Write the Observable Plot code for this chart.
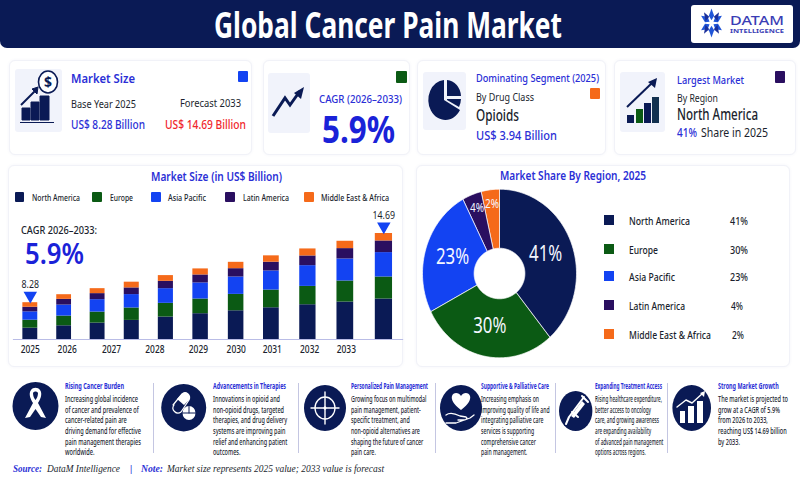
<!DOCTYPE html>
<html><head><meta charset="utf-8">
<script src="https://cdn.jsdelivr.net/npm/d3@7"></script>
<script src="https://cdn.jsdelivr.net/npm/@observablehq/plot@0.6"></script>
<style>
html,body{margin:0;padding:0;background:#fff;width:800px;height:480px;overflow:hidden;font-family:"Noto Sans",sans-serif}
#page{position:relative;width:800px;height:480px;overflow:hidden}
.t{position:absolute;white-space:nowrap;line-height:1;transform-origin:0 50%}
.box{position:absolute;box-sizing:border-box}
.card{border:1px solid #f1f2f8;border-radius:6px;background:#fff;box-shadow:0 0 3px rgba(90,100,170,.07)}
.iconbg{background:#f1f3fb;border-radius:3px}
.plot{position:absolute}
.plot svg{display:block;overflow:visible;background:transparent}
</style></head><body><div id="page"></div>
<script>
// ---------- data ----------
const regions = ["North America","Europe","Asia Pacific","Latin America","Middle East & Africa"];
const regionColors = ["#0a1a55","#0b5a14","#1343f2","#2a0f60","#f56a1a"];
const barSlots = [0,1,2,3,4,5,6,7,8,9,10];
const northAmerica = [5.92,6.14,6.39,6.64,6.95,7.26,7.53,7.81,8.09,8.34,8.62];
const europe       = [0.74,0.90,1.02,1.15,1.27,1.36,1.52,1.64,1.70,1.95,2.04];
const asiaPacific  = [0.77,1.02,1.15,1.24,1.36,1.49,1.61,1.77,1.92,2.04,2.26];
const latinAmerica = [0.43,0.53,0.56,0.62,0.68,0.74,0.77,0.81,0.90,0.96,1.08];
const middleEast   = [0.42,0.43,0.46,0.53,0.53,0.56,0.59,0.59,0.65,0.68,0.69];
const tickYears = ["2025","2026","2027","2028","2029","2030","2031","2032","2033"];
const tickSlots = [0,1.09,2.41,3.68,4.94,6.0,7.03,8.05,9.03];
const calloutSlots = [0,10];
const calloutTotals = [8.28,14.69];
const axisFloor = 4.87;
const sliceShares = [38.7,28.9,24.6,4.05,3.75];
const shareLabels = ["41%","30%","23%","4%","2%"];

// ---------- helpers ----------
const page = document.getElementById("page");
function box(cls,x,y,w,h,extra){const d=document.createElement("div");d.className="box "+cls;
  d.style.cssText=`left:${x}px;top:${y}px;width:${w}px;height:${h}px;${extra||""}`;page.appendChild(d);return d;}
function T(text,x,cy,size,color,o={}){const s=document.createElement("span");s.className="t";s.textContent=text;
  s.style.cssText=`left:${x}px;top:${cy}px;font-size:${size}px;color:${color};font-weight:${o.weight||400};font-family:${o.family||'"Noto Sans"'};${o.italic?"font-style:italic;":""}`;
  page.appendChild(s);let k=o.k||1;if(o.w)k=o.w/s.getBoundingClientRect().width;
  s.style.transform=`translateY(-50%) scaleX(${k})`;return k;}
function squeeze(svg,k){svg.querySelectorAll("text").forEach(t=>{const n=t.querySelector("tspan")||t;
  const len=n.getComputedTextLength();n.setAttribute("textLength",len*k);n.setAttribute("lengthAdjust","spacingAndGlyphs");});}
const NAVY="#0a1a55",BLUE="#2b2fd6",INK="#1b1f2e",LOGO="#3a3db5";

// ---------- header ----------
box("",0,0,800,47.5,`background:${NAVY};border-radius:0 0 7px 7px`);
T("Global Cancer Pain Market",214,23.5,35,"#fff",{weight:700,w:348});
box("",691,5,102,38,"background:#fff;border-radius:3px");
T("DATAM",730,21,12.5,LOGO,{weight:500,w:54});
T("INTELLIGENCE",730,30.5,6,LOGO,{weight:700,w:54});

// ---------- KPI cards ----------
box("card",9,60,243,95);box("card",263,60,147,95);box("card",417,60,189,95);box("card",614,60,182,95);
box("iconbg",15,69,47,63);box("iconbg",268,73,42,60);box("iconbg",423,72,43,58);box("iconbg",620,72,45,60);
box("",238,71,10,11,`background:${regionColors[2]};border-radius:1px`);
box("",396,71,11,12,`background:${regionColors[1]};border-radius:1px`);
box("",590,88,10,11,`background:${regionColors[4]};border-radius:1px`);
box("",775,71,10,12,`background:${regionColors[3]};border-radius:1px`);
T("Market Size",71,78,13,BLUE,{weight:600,w:64});
T("Base Year 2025",71,103,11,INK,{w:65});
T("Forecast 2033",180,102,11,INK,{w:61});
T("US$ 8.28 Billion",71,125,12,BLUE,{weight:500,w:74});
T("US$ 14.69 Billion",165,125,12,"#f0262c",{weight:500,w:81});
T("CAGR (2026–2033)",319,98,11,BLUE,{weight:500,w:83});
T("5.9%",322,128,38,"#1a22d8",{weight:700,w:73});
T("Dominating Segment (2025)",476,77,11,BLUE,{weight:500,w:123});
T("By Drug Class",476,96,11,INK,{w:58});
T("Opioids",476,115,16,INK,{weight:500,w:43});
T("US$ 3.94 Billion",476,136,12.5,BLUE,{weight:500,w:81});
T("Largest Market",677,79,11,BLUE,{weight:500,w:67});
T("By Region",677,97,11,INK,{w:41});
T("North America",677,115,15.5,INK,{weight:500,w:81});
T("41%",677,133,12,BLUE,{weight:500,w:20});
T("Share in 2025",701,133,12,INK,{w:67});

// ---------- panels ----------
box("card",8,165,395,202);box("card",416,165,374,202);
T("Market Size (in US$ Billion)",151,177,12,BLUE,{weight:600,w:131});
T("Market Share By Region, 2025",500,176,12,BLUE,{weight:600,w:146});
const lx=[15,92,151,225,304],ltx=[32,110,168,243,321],ltw=[48,23,38,46,68];
regions.forEach((r,i)=>{box("",lx[i],192,i==0?9:10,10,`background:${regionColors[i]};border-radius:1px`);
  T(r,ltx[i],197,9,INK,{weight:500,w:ltw[i]});});

// ---------- stacked bars ----------
const barSeries=[northAmerica,europe,asiaPacific,latinAmerica,middleEast];
const barRows=barSlots.flatMap((s,i)=>regions.map((r,j)=>({slot:s,region:r,value:barSeries[j][i]})));
const callouts=calloutSlots.map((s,i)=>({slot:s,total:calloutTotals[i]}));
const barChart=Plot.plot({
  width:410,height:210,marginTop:0,marginRight:0,marginLeft:0,marginBottom:30,
  x:{type:"linear",domain:[-1,...barSlots,11],range:[-4,29.8,63.7,97,131.3,165.3,200,235.7,270.7,307.3,344.7,383.3,423],label:null},
  y:{domain:[axisFloor,14.69],range:[180,74],axis:null},
  color:{domain:regions,range:regionColors},
  style:{fontFamily:'"Noto Sans",sans-serif',background:"transparent"},
  marks:[
    Plot.rectY(barRows,{x1:d=>d.slot-0.22,x2:d=>d.slot+0.22,y:"value",fill:"region",order:regions,clip:true}),
    Plot.ruleY([axisFloor],{x1:-0.5,x2:10.5,stroke:"#b9bce6",strokeWidth:1}),
    Plot.axisX({ticks:tickSlots,tickFormat:(d,i)=>tickYears[i],tickSize:0,tickPadding:6,fontSize:10.5,fontWeight:500,color:INK,label:null}),
    Plot.text(callouts,{x:"slot",y:"total",text:d=>String(d.total),dy:-18,fontSize:11,fill:INK}),
    Plot.dot(callouts,{x:"slot",y:"total",symbol:"triangle",rotate:180,r:5,dy:-7,fill:"#1343f2",stroke:"none"})
  ]});
const w1=document.createElement("div");w1.className="plot";w1.style.cssText="left:0;top:159.4px";w1.appendChild(barChart);page.appendChild(w1);
squeeze(barChart,0.8);
T("CAGR 2026–2033:",21,229,11,INK,{weight:500,w:76});
T("5.9%",25,252,29,"#1a22d8",{weight:600,w:59});

// ---------- donut ----------
const starts=[0,...d3.cumsum(sliceShares)];
const ring=[];
regions.forEach((r,i)=>{
  const a0=starts[i]*3.6,a1=starts[i+1]*3.6,n=Math.ceil(a1-a0)+1;
  const ang=d3.range(n).map(k=>(a0+(a1-a0)*k/(n-1))*Math.PI/180);
  ang.forEach(a=>ring.push({region:r,x:Math.sin(a),y:Math.cos(a)}));
  ang.slice().reverse().forEach(a=>ring.push({region:r,x:0.33*Math.sin(a),y:0.3*Math.cos(a)}));
});
const sliceLabels=regions.map((r,i)=>{const a=(starts[i]+starts[i+1])/2*3.6*Math.PI/180,q=i<3?0.64:0.825;
  return {label:shareLabels[i],big:i<3,x:q*Math.sin(a),y:q*Math.cos(a)};});
const pie=Plot.plot({
  width:390,height:210,margin:0,
  x:{domain:[-1,1],range:[12,166],axis:null},
  y:{domain:[-1,1],range:[197.3,28.7],axis:null},
  color:{domain:regions,range:regionColors},
  style:{fontFamily:'"Noto Sans",sans-serif',background:"transparent"},
  marks:[
    Plot.line(ring,{x:"x",y:"y",z:"region",fill:"region",stroke:"#fff",strokeWidth:0.7,curve:"linear-closed"}),
    Plot.text(sliceLabels.filter(d=>d.big),{x:"x",y:"y",text:"label",fill:"#f4f6ff",fontSize:21}),
    Plot.text(sliceLabels.filter(d=>!d.big),{x:"x",y:"y",text:"label",fill:"#f4f6ff",fontSize:12.5})
  ]});
const w2=document.createElement("div");w2.className="plot";w2.style.cssText="left:410px;top:160px";w2.appendChild(pie);page.appendChild(w2);
squeeze(pie,0.8);
const pieY=[219.5,248.7,276,304.7,333.5],pieW=[61,29,46,56,82],pctX=[729.5,729.5,729.5,731,731.5];
regions.forEach((r,i)=>{box("",604,pieY[i]-5,10,10,`background:${regionColors[i]}`);
  T(r,629,pieY[i],11,INK,{weight:500,w:pieW[i]});
  T(shareLabels[i],pctX[i],pieY[i],11,INK,{weight:500,w:i<3?18:12});});

// ---------- bottom strip ----------
const cols=[
 {x:65,tw:59,fw:73,title:"Rising Cancer Burden",lines:["Increasing global incidence","of cancer and prevalence of","cancer-related pain are","driving demand for effective","pain management therapies","worldwide."]},
 {x:213,tw:73,fw:67,title:"Advancements in Therapies",lines:["Innovations in opioid and","non-opioid drugs, targeted","therapies, and drug delivery","systems are improving pain","relief and enhancing patient","outcomes."]},
 {x:351,tw:77,fw:75.5,title:"Personalized Pain Management",lines:["Growing focus on multimodal","pain management, patient-","specific treatment, and","non-opioid alternatives are","shaping the future of cancer","pain care."]},
 {x:481,tw:68,fw:58,title:"Supportive & Palliative Care",lines:["Increasing emphasis on","improving quality of life and","integrating palliative care","services is supporting","comprehensive cancer","pain management."]},
 {x:595,tw:67,fw:67,title:"Expanding Treatment Access",lines:["Rising healthcare expenditure,","better access to oncology","care, and growing awareness","are expanding availability","of advanced pain management","options across regions."]},
 {x:717.7,tw:60.7,fw:70,title:"Strong Market Growth",lines:["The market is projected to","grow at a CAGR of 5.9%","from 2026 to 2033,","reaching US$ 14.69 billion","by 2033."]}
];
cols.forEach(c=>{
  T(c.title,c.x,385.8,8.5,BLUE,{weight:700,w:c.tw});
  const k=c.fw/(()=>{const m=document.createElement("span");m.className="t";m.style.cssText='font:500 8.3px "Noto Sans";visibility:hidden';m.textContent=c.lines[0];page.appendChild(m);const w=m.getBoundingClientRect().width;m.remove();return w;})();
  c.lines.forEach((l,i)=>T(l,c.x,399+10.65*i,8.3,"#20242f",{weight:500,k}));
});
[152.7,298,435,555,667].forEach(x=>box("",x,383,1,70,"background:#c4c6e2"));

const sf='"Liberation Serif",serif';
T("Source:",13,468.5,10,"#2b2fd6",{weight:700,italic:true,family:sf,w:29});
T("DataM Intelligence",47,468.5,10,"#1b1f2e",{italic:true,family:sf,w:73});
T("|",130,468.5,10,"#2b2fd6",{weight:700,family:sf});
T("Note:",141,468.5,10,"#2b2fd6",{weight:700,italic:true,family:sf,w:22});
T("Market size represents 2025 value; 2033 value is forecast",167,468.5,10,"#1b1f2e",{italic:true,family:sf,w:217});

// ---------- icons (decoration) ----------
const icon=document.createElementNS("http://www.w3.org/2000/svg","svg");
icon.setAttribute("width",800);icon.setAttribute("height",480);icon.style.cssText="position:absolute;left:0;top:0;pointer-events:none";
icon.innerHTML=`
<g transform="translate(711.5,23) scale(.75,.9)" fill="#1f55d8">${d3.range(6).map(i=>`<path transform="rotate(${i*60})" d="M0,-3 L-3.5,-8 L0,-16 L3.5,-8Z"/>`).join("")}<path d="M-10,-12L-3,-7L-8,-2Z M10,-12L3,-7L8,-2Z M-10,12L-3,7L-8,2Z M10,12L3,7L8,2Z" fill="#1a2f9a"/></g>
<g fill="${NAVY}" stroke="${NAVY}">
 <path d="M22,108h8v12h-8z M31,102h8v18h-8z M40,96h9v24h-9z M20,122.5h34" stroke-width="1"/>
 <path d="M21,105L36,90" fill="none" stroke-width="2"/><path d="M38,87l-1,7l-5,-5z"/>
 <ellipse cx="48" cy="82" rx="9.5" ry="11" fill="#fff" stroke-width="1.6"/>
</g>
<text x="48" y="87" text-anchor="middle" font-size="14" font-weight="700" fill="${NAVY}" font-family="Noto Sans">$</text>
<g fill="none" stroke="${NAVY}" stroke-width="3"><path d="M273,116L285,98L290,105L300,91"/></g><path d="M304,87l-3,12l-7,-6z" fill="${NAVY}"/>
<g fill="${NAVY}"><path d="M444,80A17,20 0 1 0 460,110L444,100Z"/><path d="M447,80A15,17 0 0 1 461,96H447Z"/><path d="M447,99H461A15,18 0 0 1 459,107L447,100Z"/></g>
<g fill="${NAVY}"><rect x="627" y="115" width="7" height="8"/><rect x="636" y="109" width="7" height="14" fill="#0b5a14"/><rect x="644" y="103" width="7" height="20"/><rect x="652" y="97" width="7" height="26" fill="#12304f"/>
 <path d="M627,107L653,82" stroke="${NAVY}" stroke-width="2"/><path d="M657,78l-2,10l-7,-6z"/></g>
<g fill="${NAVY}">
 <ellipse cx="35.5" cy="406" rx="23" ry="24"/><ellipse cx="183.7" cy="407.7" rx="22.5" ry="23.7"/><ellipse cx="325" cy="408" rx="21" ry="23"/>
 <ellipse cx="461" cy="408" rx="21" ry="23"/><ellipse cx="575.7" cy="411" rx="16.7" ry="20"/><ellipse cx="691.7" cy="408" rx="19.3" ry="23"/>
</g>
<g fill="#fff" stroke="#fff" stroke-linecap="round" stroke-linejoin="round">
 <path d="M31,390C33,387 38,387 40,390C43,394 40,400 38,403L46,418L41,417L35.5,409L30,417L25,418L33,403C31,400 28,394 31,390Z M33,393C34,391 37,391 38,393C38,396 37,398 35.5,400C34,398 33,396 33,393Z" fill-rule="evenodd" stroke="none"/>
 <path d="M173,405L182,394a4.5,5 0 0 1 7,6L181,412a5,5 0 0 1 -7,-7Z" fill="none" stroke-width="1.2"/>
 <path d="M182,394a4.5,5 0 0 1 7,6L184,405L177,399Z" stroke="none"/>
 <ellipse cx="189" cy="413" rx="6.5" ry="7" stroke="none"/><path d="M182,413h14M189,406v7" stroke="${NAVY}" stroke-width="1"/>
 <ellipse cx="325" cy="408" rx="10" ry="11" fill="none" stroke-width="1.3"/><path d="M311,408h28M325,392v32" stroke-width="1.4"/><ellipse cx="325" cy="408" rx="1.5" ry="1.7" stroke="none"/>
 <path d="M461,410C453,404 451,399 452,396C453,392 459,392 461,396C463,392 469,392 470,396C471,399 469,404 461,410Z" stroke="none"/>
 <path d="M446,415C450,412 456,414 460,416L466,417C468,418 466,420 464,420H458M446,423L456,423L470,418L474,415" fill="none" stroke-width="1.3"/>
 <path d="M584,397L569,417L566,424M588,402L582,396M572,412L578,417" stroke-width="2" fill="none"/><path d="M582,401L571,416L574,418L585,404Z" stroke="none"/>
 <rect x="680" y="411" width="5" height="12" stroke="none"/><rect x="688" y="406" width="6" height="17" stroke="none"/><rect x="697" y="401" width="6" height="22" stroke="none"/>
 <path d="M677,407L686,400L692,403L703,393" fill="none" stroke-width="1.4"/><path d="M705,391l-1,6l-4,-4z" stroke="none"/>
</g>`;
page.appendChild(icon);
</script></body></html>
